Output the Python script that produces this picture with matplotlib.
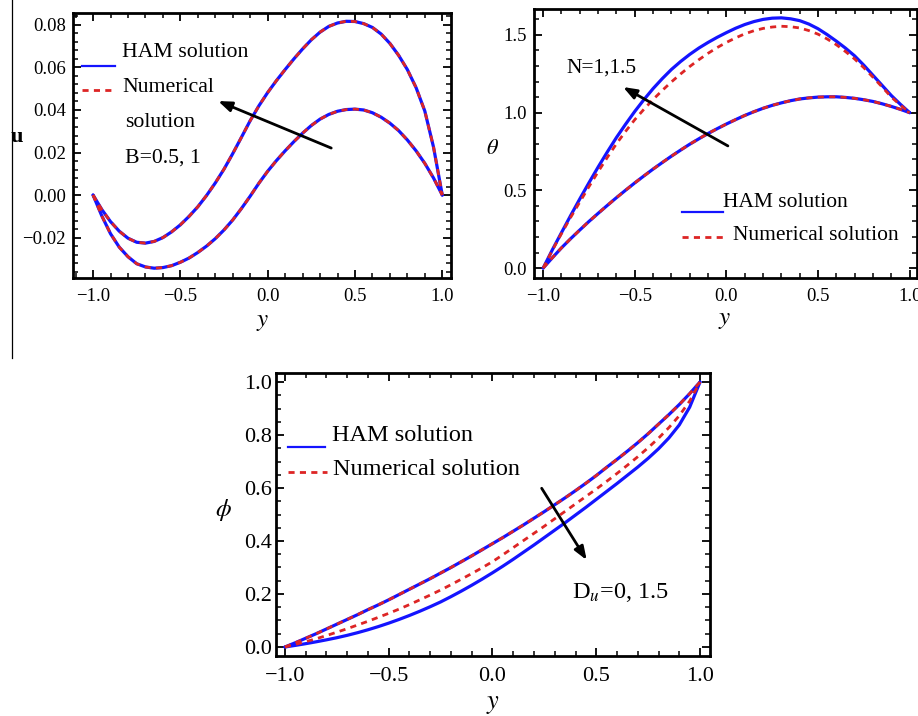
import matplotlib
matplotlib.use('Agg')
import matplotlib.pyplot as plt
from matplotlib.lines import Line2D
from matplotlib.ticker import MultipleLocator

plt.rcParams['font.family'] = ['Liberation Serif', 'DejaVu Serif']
plt.rcParams['mathtext.fontset'] = 'stix'

# ---------------- data ----------------
y_grid = [-1.0, -0.95, -0.9, -0.85, -0.8, -0.75, -0.7, -0.65, -0.6, -0.55,
          -0.5, -0.45, -0.4, -0.35, -0.3, -0.25, -0.2, -0.15, -0.1, -0.05,
          0.0, 0.05, 0.1, 0.15, 0.2, 0.25, 0.3, 0.35, 0.4, 0.45,
          0.5, 0.55, 0.6, 0.65, 0.7, 0.75, 0.8, 0.85, 0.9, 0.95, 1.0]

# Panel 1: velocity u(y), B = 0.5 (smaller) and B = 1 (larger)
u_ham_B1 = [0, -0.0068, -0.0125, -0.0170, -0.0203, -0.0222, -0.0226, -0.0218,
            -0.0200, -0.0173, -0.0140, -0.0100, -0.0055, -0.0002, 0.0057,
            0.0122, 0.0195, 0.0272, 0.0350, 0.0420, 0.0482, 0.0538, 0.0590,
            0.0640, 0.0687, 0.0730, 0.0766, 0.0793, 0.0809, 0.0817, 0.0816,
            0.0806, 0.0788, 0.0757, 0.0713, 0.0657, 0.0590, 0.0505, 0.0395,
            0.0225, 0]
u_num_B1 = [0, -0.0068, -0.0125, -0.0170, -0.0203, -0.0222, -0.0226, -0.0218,
            -0.0200, -0.0173, -0.0140, -0.0100, -0.0055, -0.0002, 0.0057,
            0.0122, 0.0195, 0.0272, 0.0350, 0.0420, 0.0482, 0.0538, 0.0590,
            0.0640, 0.0687, 0.0730, 0.0766, 0.0793, 0.0809, 0.0817, 0.0816,
            0.0806, 0.0788, 0.0757, 0.0713, 0.0657, 0.0590, 0.0505, 0.0395,
            0.0225, 0]
u_ham_B05 = [0, -0.0098, -0.0182, -0.0245, -0.0290, -0.0323, -0.0338, -0.0344,
             -0.0341, -0.0332, -0.0316, -0.0296, -0.0270, -0.0240, -0.0205,
             -0.0164, -0.0117, -0.0063, -0.0005, 0.0056, 0.0112, 0.0162,
             0.0208, 0.0251, 0.0291, 0.0327, 0.0357, 0.0379, 0.0394, 0.0402,
             0.0404, 0.0400, 0.0387, 0.0366, 0.0338, 0.0303, 0.0259, 0.0208,
             0.0149, 0.0080, 0]
u_num_B05 = [0, -0.0098, -0.0182, -0.0245, -0.0290, -0.0323, -0.0338, -0.0344,
             -0.0341, -0.0332, -0.0316, -0.0296, -0.0270, -0.0240, -0.0205,
             -0.0164, -0.0117, -0.0063, -0.0005, 0.0056, 0.0112, 0.0162,
             0.0208, 0.0251, 0.0291, 0.0327, 0.0357, 0.0379, 0.0394, 0.0402,
             0.0404, 0.0400, 0.0387, 0.0366, 0.0338, 0.0303, 0.0259, 0.0208,
             0.0149, 0.0080, 0]

# Panel 2: temperature theta(y), N = 1 and N = 1.5
theta_ham_N15 = [0, 0.117, 0.228, 0.338, 0.445, 0.549, 0.650, 0.747, 0.840,
                 0.926, 1.008, 1.084, 1.155, 1.219, 1.278, 1.329, 1.375, 1.416,
                 1.452, 1.485, 1.515, 1.543, 1.567, 1.586, 1.600, 1.608, 1.610,
                 1.604, 1.592, 1.570, 1.540, 1.502, 1.460, 1.415, 1.365, 1.305,
                 1.240, 1.175, 1.110, 1.053, 1.0]
theta_num_N15 = [0, 0.114, 0.222, 0.326, 0.425, 0.524, 0.620, 0.712, 0.800,
                 0.880, 0.955, 1.022, 1.085, 1.143, 1.198, 1.249, 1.297, 1.341,
                 1.382, 1.419, 1.452, 1.481, 1.507, 1.527, 1.542, 1.551, 1.556,
                 1.553, 1.545, 1.528, 1.505, 1.474, 1.437, 1.393, 1.345, 1.289,
                 1.228, 1.165, 1.100, 1.048, 1.0]
theta_ham_N1 = [0, 0.066, 0.130, 0.189, 0.245, 0.300, 0.352, 0.403, 0.453,
                0.501, 0.548, 0.593, 0.637, 0.679, 0.720, 0.759, 0.797, 0.832,
                0.866, 0.897, 0.927, 0.955, 0.982, 1.006, 1.028, 1.047, 1.063,
                1.077, 1.088, 1.095, 1.100, 1.102, 1.102, 1.098, 1.092, 1.083,
                1.072, 1.057, 1.040, 1.021, 1.0]
theta_num_N1 = [0, 0.066, 0.130, 0.189, 0.245, 0.300, 0.352, 0.403, 0.453,
                0.501, 0.548, 0.593, 0.637, 0.679, 0.720, 0.759, 0.797, 0.832,
                0.866, 0.897, 0.927, 0.955, 0.982, 1.006, 1.028, 1.047, 1.063,
                1.077, 1.088, 1.095, 1.100, 1.102, 1.102, 1.098, 1.092, 1.083,
                1.072, 1.057, 1.040, 1.021, 1.0]

# Panel 3: concentration phi(y), Du = 0 and Du = 1.5
phi_ham_Du0 = [0, 0.016, 0.033, 0.050, 0.068, 0.086, 0.104, 0.122, 0.141,
               0.159, 0.178, 0.198, 0.218, 0.238, 0.258, 0.279, 0.300, 0.322,
               0.344, 0.367, 0.390, 0.413, 0.437, 0.461, 0.486, 0.511, 0.537,
               0.563, 0.590, 0.618, 0.647, 0.678, 0.708, 0.739, 0.771, 0.805,
               0.841, 0.877, 0.915, 0.956, 1.0]
phi_num_Du0 = [0, 0.016, 0.033, 0.050, 0.068, 0.086, 0.104, 0.122, 0.141,
               0.159, 0.178, 0.198, 0.218, 0.238, 0.258, 0.279, 0.300, 0.322,
               0.344, 0.367, 0.390, 0.413, 0.437, 0.461, 0.486, 0.511, 0.537,
               0.563, 0.590, 0.618, 0.647, 0.678, 0.708, 0.739, 0.771, 0.805,
               0.841, 0.877, 0.915, 0.956, 1.0]
phi_ham_Du15 = [0, 0.006, 0.0125, 0.0195, 0.027, 0.035, 0.044, 0.054, 0.065,
                0.077, 0.090, 0.104, 0.119, 0.135, 0.152, 0.170, 0.190, 0.211,
                0.233, 0.256, 0.280, 0.305, 0.331, 0.358, 0.385, 0.413, 0.441,
                0.469, 0.498, 0.527, 0.557, 0.587, 0.617, 0.648, 0.679, 0.712,
                0.748, 0.789, 0.838, 0.905, 1.0]
phi_num_Du15 = [0, 0.0097, 0.020, 0.031, 0.043, 0.056, 0.069, 0.083, 0.097,
                0.112, 0.127, 0.143, 0.160, 0.178, 0.196, 0.215, 0.235, 0.256,
                0.277, 0.299, 0.322, 0.348, 0.375, 0.402, 0.429, 0.456, 0.484,
                0.512, 0.540, 0.568, 0.596, 0.625, 0.655, 0.686, 0.718, 0.752,
                0.788, 0.828, 0.873, 0.928, 1.0]

x_ticks = [-1.0, -0.5, 0.0, 0.5, 1.0]
x_ticklabels = ['\u22121.0', '\u22120.5', '0.0', '0.5', '1.0']

# ---------------- style ----------------
BLUE = '#1414ff'
RED = '#dd2525'
W, H = 918, 716

fig = plt.figure(figsize=(W / 100, H / 100), dpi=100)


def ax_at(l, t, r, b):
    return fig.add_axes([l / W, 1 - b / H, (r - l) / W, (b - t) / H])


def style(ax, fs, ymaj, ymin, yfmt, pad_x, pad_y):
    for s in ax.spines.values():
        s.set_linewidth(2.0)
    ax.set_xticks(x_ticks)
    ax.set_xticklabels(x_ticklabels)
    ax.xaxis.set_minor_locator(MultipleLocator(0.1))
    ax.yaxis.set_major_locator(MultipleLocator(ymaj))
    ax.yaxis.set_minor_locator(MultipleLocator(ymin))
    ax.yaxis.set_major_formatter(plt.FuncFormatter(
        lambda v, p: (yfmt % v).replace('-', '\u2212') if abs(v) > 1e-12 else yfmt % 0))
    ax.tick_params(which='both', direction='in', top=True, right=True,
                   labelsize=fs, colors='black')
    ax.tick_params(which='major', length=6, width=1.3)
    ax.tick_params(which='minor', length=3.5, width=1.1)
    ax.tick_params(axis='x', which='major', pad=pad_x)
    ax.tick_params(axis='y', which='major', pad=pad_y)


def curves(ax, x, ham, num):
    ax.plot(x, ham, color=BLUE, lw=2.3, solid_capstyle='round',
            solid_joinstyle='round', zorder=3)
    ax.plot(x, num, color=RED, lw=2.0, linestyle=(0, (2.2, 1.9)), zorder=4)


def key(ax, x0, x1, yv, kind):
    if kind == 'ham':
        ax.add_line(Line2D([x0, x1], [yv, yv], color=BLUE, lw=1.6))
    else:
        ax.add_line(Line2D([x0, x1], [yv, yv], color=RED, lw=2.0,
                           linestyle=(0, (2.2, 1.9))))


def arrow(ax, tail, head):
    ax.annotate('', xy=head, xytext=tail,
                arrowprops=dict(arrowstyle='-|>,head_length=0.8,head_width=0.3',
                                color='black', lw=2.0, shrinkA=0, shrinkB=0),
                zorder=6)


# ---------------- panel 1 ----------------
ax1 = ax_at(73, 13, 451, 278)
curves(ax1, y_grid, u_ham_B1, u_num_B1)
curves(ax1, y_grid, u_ham_B05, u_num_B05)
ax1.set_xlim(-1.115, 1.05)
ax1.set_ylim(-0.039, 0.0856)
style(ax1, 13.5, 0.02, 0.004, '%.2f', 7, 5)
key(ax1, -1.063, -0.874, 0.0607, 'ham')
key(ax1, -1.063, -0.874, 0.0494, 'num')
ax1.text(-0.834, 0.0668, 'HAM solution', fontsize=15.7, va='center', ha='left')
ax1.text(-0.834, 0.0504, 'Numerical', fontsize=15.7, va='center', ha='left')
ax1.text(-0.817, 0.0339, 'solution', fontsize=15.7, va='center', ha='left')
ax1.text(-0.817, 0.0174, 'B=0.5, 1', fontsize=15.7, va='center', ha='left')
arrow(ax1, (0.364, 0.0221), (-0.284, 0.0442))

# ---------------- panel 2 ----------------
ax2 = ax_at(534, 9, 917, 278)
curves(ax2, y_grid, theta_ham_N15, theta_num_N15)
curves(ax2, y_grid, theta_ham_N1, theta_num_N1)
ax2.set_xlim(-1.05, 1.04)
ax2.set_ylim(-0.064, 1.667)
style(ax2, 13.5, 0.5, 0.1, '%.1f', 7, 5)
key(ax2, -0.243, -0.019, 0.361, 'ham')
key(ax2, -0.243, 0.003, 0.20, 'num')
ax2.text(-0.019, 0.425, 'HAM solution', fontsize=15.5, va='center', ha='left')
ax2.text(0.035, 0.2125, 'Numerical solution', fontsize=15.5, va='center', ha='left')
ax2.text(-0.875, 1.288, 'N=1,1.5', fontsize=15.5, va='center', ha='left')
arrow(ax2, (0.008, 0.786), (-0.564, 1.165))

# ---------------- panel 3 ----------------
ax3 = ax_at(276, 373, 710, 656)
curves(ax3, y_grid, phi_ham_Du0, phi_num_Du0)
curves(ax3, y_grid, phi_ham_Du15, phi_num_Du15)
ax3.set_xlim(-1.043, 1.048)
ax3.set_ylim(-0.034, 1.034)
style(ax3, 16, 0.2, 0.05, '%.1f', 8, 3)
key(ax3, -0.986, -0.807, 0.755, 'ham')
key(ax3, -0.986, -0.798, 0.66, 'num')
ax3.text(-0.773, 0.80, 'HAM solution', fontsize=17.5, va='center', ha='left')
ax3.text(-0.769, 0.668, 'Numerical solution', fontsize=17.5, va='center', ha='left')
ax3.text(0.383, 0.204, r'D$_{\mathit{u}}$=0, 1.5', fontsize=17.5, va='center', ha='left')
arrow(ax3, (0.237, 0.599), (0.454, 0.328))

# ---------------- axis labels ----------------
def ftext(px, py, s, **kw):
    fig.text(px / W, 1 - py / H, s, ha='center', va='center', **kw)

ftext(17, 137, 'u', fontsize=16, fontweight='bold')
ftext(263, 322, r'$y$', fontsize=18)
ftext(492, 150, r'$\theta$', fontsize=16)
ftext(725, 320, r'$y$', fontsize=18)
ftext(223, 510, r'$\phi$', fontsize=18)
ftext(493, 705, r'$y$', fontsize=19)

# vertical rule on the left edge
fig.add_artist(Line2D([12 / W, 12 / W], [1, 1 - 358 / H], color='black', lw=0.9))

fig.savefig('out.png', dpi=100)
